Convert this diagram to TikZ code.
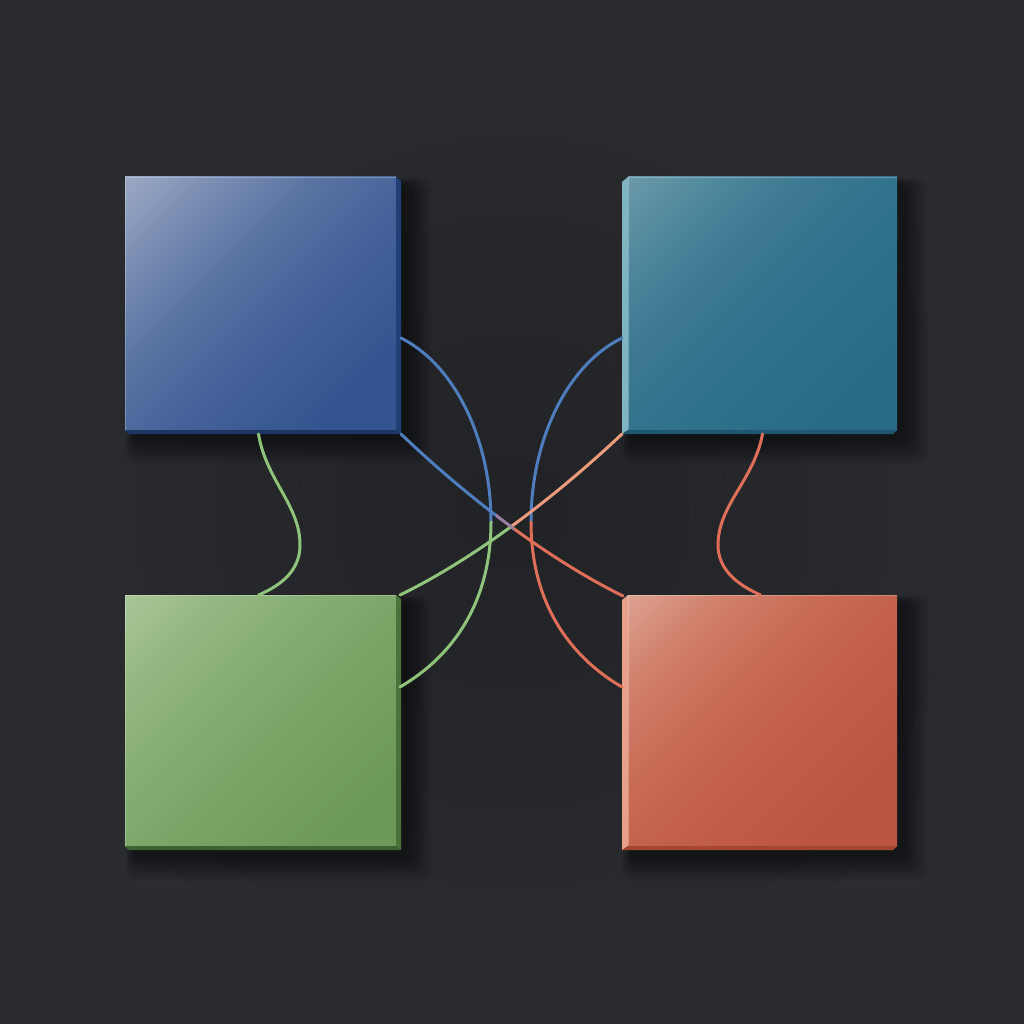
\documentclass[tikz,border=0pt]{standalone}
\usetikzlibrary{calc}
\definecolor{bg}{HTML}{222327}
\definecolor{bgedge}{HTML}{2E3034}
\definecolor{blueS}{HTML}{223F75}
\definecolor{tealE}{HTML}{7FB4C3}
\definecolor{tealS}{HTML}{1E5870}
\definecolor{greenS}{HTML}{4A733C}
\definecolor{redE}{HTML}{E9A08B}
\definecolor{redS}{HTML}{A4472F}
% lines
\definecolor{lblue}{HTML}{4E7EBE}
\definecolor{lgreen}{HTML}{8FC47A}
\definecolor{lred}{HTML}{DF6F58}
\definecolor{lsalmon}{HTML}{EC9C7C}
\definecolor{lmix}{HTML}{9A7FA0}
% face shadings (0bp = bottom-right, 100bp = top-left after rotation)
\pgfdeclareverticalshading{bluesh}{100bp}{color(0bp)=(rgb,255:red,51;green,84;blue,142); color(25bp)=(rgb,255:red,51;green,84;blue,142); color(45bp)=(rgb,255:red,69;green,98;blue,154); color(60bp)=(rgb,255:red,90;green,116;blue,162); color(73bp)=(rgb,255:red,122;green,142;blue,179); color(86bp)=(rgb,255:red,157;green,170;blue,198); color(100bp)=(rgb,255:red,157;green,170;blue,198)}
\pgfdeclareverticalshading{tealsh}{100bp}{color(0bp)=(rgb,255:red,41;green,107;blue,135); color(25bp)=(rgb,255:red,41;green,107;blue,135); color(45bp)=(rgb,255:red,48;green,113;blue,139); color(60bp)=(rgb,255:red,60;green,120;blue,146); color(73bp)=(rgb,255:red,79;green,136;blue,157); color(86bp)=(rgb,255:red,108;green,154;blue,168); color(100bp)=(rgb,255:red,108;green,154;blue,168)}
\pgfdeclareverticalshading{greensh}{100bp}{color(0bp)=(rgb,255:red,109;green,153;blue,90); color(25bp)=(rgb,255:red,109;green,153;blue,90); color(45bp)=(rgb,255:red,121;green,164;blue,102); color(60bp)=(rgb,255:red,134;green,174;blue,116); color(73bp)=(rgb,255:red,149;green,184;blue,130); color(86bp)=(rgb,255:red,171;green,199;blue,152); color(100bp)=(rgb,255:red,171;green,199;blue,152)}
\pgfdeclareverticalshading{redsh}{100bp}{color(0bp)=(rgb,255:red,186;green,85;blue,64); color(25bp)=(rgb,255:red,186;green,85;blue,64); color(45bp)=(rgb,255:red,194;green,95;blue,73); color(60bp)=(rgb,255:red,201;green,108;blue,86); color(73bp)=(rgb,255:red,209;green,130;blue,109); color(86bp)=(rgb,255:red,221;green,163;blue,145); color(100bp)=(rgb,255:red,221;green,163;blue,145)}
\begin{document}
\begin{tikzpicture}[x=1pt,y=-1pt,
  face/.style={draw=none,minimum width=271pt,minimum height=253pt,inner sep=0pt,outer sep=0pt},
  wire/.style={line width=3pt,line cap=round},
  hilite/.style={white,opacity=0.25,line width=1.2pt}]
% background
\fill[bg] (0,0) rectangle (1024,1024);
\useasboundingbox (0,0) rectangle (1024,1024);
\shade[inner color=bg,outer color=bgedge,opacity=0.7] (0,0) rectangle (1024,1024);
% shadows
\foreach \x/\y in {125/177,622/177,125/595,622/595}{
  \foreach \i in {1,...,12}{
    \fill[black,opacity=0.045,rounded corners=10pt]
      (\x+10-0.8*\i,\y+8-0.6*\i) rectangle (\x+280+2.2*\i,\y+260+2.2*\i);
  }
}
% boxes (faces)
\node[face,shading=bluesh,shading angle=45] (blue) at (260.5,303.5) {};
\node[face,shading=tealsh,shading angle=45,minimum width=269pt] (teal) at (762.5,303.5) {};
\node[face,shading=greensh,shading angle=45,minimum height=251pt] (green) at (260.5,720.5) {};
\node[face,shading=redsh,shading angle=45,minimum width=269pt,minimum height=251pt] (red) at (762.5,720.5) {};
% side strips, left column (extrusion to the right)
\foreach \b/\c in {blue/blueS,green/greenS}{
  \fill[\c] (\b.north east) -- ++(5,4) -- ([xshift=5pt,yshift=-4pt]\b.south east) -- (\b.south east) -- cycle;
  \fill[\c!85!black] (\b.south west) -- (\b.south east) -- ++(5,4) -- ([xshift=3pt,yshift=-4pt]\b.south west) -- cycle;
  \draw[hilite] ([yshift=-0.6pt]\b.north east) -- ([xshift=0.6pt,yshift=-0.6pt]\b.north west) -- ([xshift=0.6pt]\b.south west);
}
% side strips, right column (extrusion to the left)
\foreach \b/\e/\c in {teal/tealE/tealS,red/redE/redS}{
  \fill[\e] (\b.north west) -- ++(-6,5) -- ([xshift=-6pt,yshift=-4pt]\b.south west) -- (\b.south west) -- cycle;
  \fill[\c] (\b.south west) -- (\b.south east) -- ++(-4,4) -- ([xshift=-6pt,yshift=-4pt]\b.south west) -- cycle;
  \draw[hilite] ([yshift=-0.6pt]\b.north east) -- ([xshift=0.6pt,yshift=-0.6pt]\b.north west) -- ([xshift=0.6pt]\b.south west);
}
% connection points
\coordinate (bBot) at ([xshift=-2pt,yshift=-4pt]blue.south);
\coordinate (gTop) at ([xshift=-2pt]green.north);
\coordinate (tBot) at ([xshift=0pt,yshift=-4pt]teal.south);
\coordinate (rTop) at ([xshift=-2pt]red.north);
\coordinate (bR) at ([xshift=5pt,yshift=-34.5pt]blue.east);
\coordinate (gR) at ([xshift=4pt,yshift=33.5pt]green.east);
\coordinate (tL) at ([xshift=-6pt,yshift=-34.5pt]teal.west);
\coordinate (rL) at ([xshift=-6pt,yshift=33.5pt]red.west);
\coordinate (bC) at ([xshift=5pt,yshift=-4pt]blue.south east);
\coordinate (gC) at ([xshift=4pt]green.north east);
\coordinate (tC) at ([xshift=-6pt,yshift=-4pt]teal.south west);
\coordinate (rC) at ([xshift=-5pt,yshift=-1pt]red.north west);
\coordinate (mL) at (491,522);
\coordinate (mR) at (531,522);
% S-curves
\draw[wire,lgreen] (bBot) .. controls (266,480) and (300,505) .. (300,545)
   .. controls (300,570) and (282,585) .. (gTop);
\draw[wire,lred] (tBot) .. controls (754,480) and (718,505) .. (718,545)
   .. controls (718,570) and (738,585) .. (rTop);
% outer arcs
\draw[wire,lblue] (bR) .. controls (455,365) and (491,440) .. (mL);
\draw[wire,lgreen] (mL) .. controls (491,600) and (455,655) .. (gR);
\draw[wire,lblue] (tL) .. controls (567,365) and (531,440) .. (mR);
\draw[wire,lred] (mR) .. controls (531,600) and (567,655) .. (rL);
% green/salmon diagonal
\begin{scope}
  \clip (0,0) rectangle (511,1024);
  \draw[wire,lgreen] (gC) .. controls (472,560) and (552,500) .. (tC);
\end{scope}
\begin{scope}
  \clip (511,0) rectangle (1024,1024);
  \draw[wire,lsalmon] (gC) .. controls (472,560) and (552,500) .. (tC);
\end{scope}
% blue/red diagonal
\begin{scope}
  \clip (0,0) rectangle (496,1024);
  \draw[wire,lblue] (bC) .. controls (470,500) and (550,560) .. (rC);
\end{scope}
\begin{scope}
  \clip (496,0) rectangle (514,1024);
  \draw[wire,lmix] (bC) .. controls (470,500) and (550,560) .. (rC);
\end{scope}
\begin{scope}
  \clip (514,0) rectangle (1024,1024);
  \draw[wire,lred] (bC) .. controls (470,500) and (550,560) .. (rC);
\end{scope}
\end{tikzpicture}
\end{document}
